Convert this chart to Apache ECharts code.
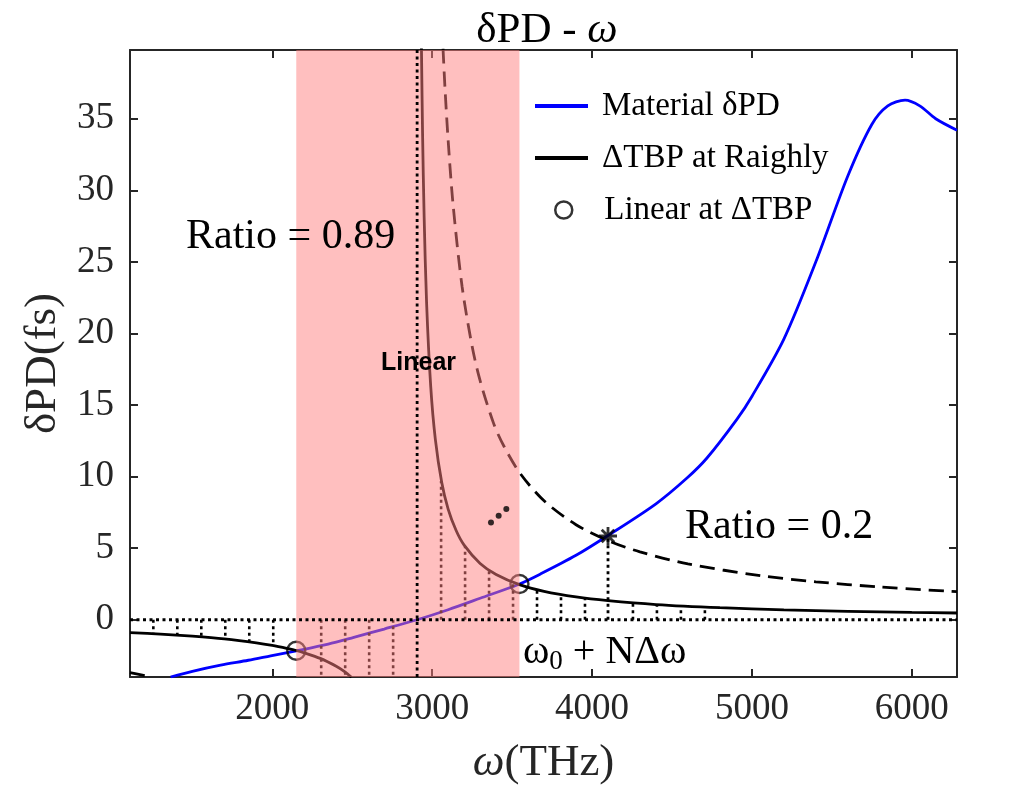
<!DOCTYPE html>
<html>
<head>
<meta charset="utf-8">
<script src="https://cdn.jsdelivr.net/npm/echarts@6/dist/echarts.min.js"></script>
<style>
html,body{margin:0;padding:0;background:#fff;}
#chart{width:1019px;height:797px;}
</style>
</head>
<body>
<div id="chart"></div>
<script>
// ---- data ----
const xTicks = [2000, 3000, 4000, 5000, 6000];
const yTicks = [0, 5, 10, 15, 20, 25, 30, 35];

// Material δPD (blue)
const omegaBlue = [1364, 1500, 1677, 1850, 1990, 2150, 2350, 2510, 2700, 2906, 3100, 3300, 3546, 3678, 3900, 4095, 4400, 4594, 4719, 4906, 5000, 5200, 5400, 5600, 5750, 5850, 5958, 6050, 6150, 6283];
const deltaPD   = [-4.0, -3.6, -3.17, -2.83, -2.52, -2.17, -1.7, -1.23, -0.65, 0, 0.7, 1.5, 2.5, 3.2, 4.5, 5.85, 8.1, 9.9, 11.3, 14.0, 15.6, 19.6, 25.0, 31.0, 34.6, 35.9, 36.3, 35.9, 35.0, 34.2];

// ΔTBP at Raighly (solid), left branch and right branch
const omegaTbpL = [1110, 1300, 1500, 1700, 1900, 2000, 2100, 2150, 2200, 2300, 2400, 2450, 2495];
const tbpL      = [-0.90, -1.00, -1.15, -1.34, -1.61, -1.79, -2.02, -2.15, -2.31, -2.70, -3.25, -3.61, -4.02];
const omegaTbpR = [2933, 2940, 2950, 2965, 2991, 3020, 3060, 3100, 3150, 3200, 3300, 3400, 3546, 3700, 3900, 4100, 4400, 4800, 5200, 5600, 6000, 6283];
const tbpR      = [40.0, 34.0, 28.1, 22.2, 16.3, 12.6, 9.58, 7.73, 6.23, 5.21, 3.93, 3.16, 2.45, 1.98, 1.59, 1.33, 1.06, 0.84, 0.69, 0.59, 0.51, 0.47];

// dashed curve (Ratio = 0.2)
const omegaDashL = [1110, 1180, 1250];
const dashL      = [-3.70, -3.85, -4.01];
const omegaDashR = [3068, 3080, 3100, 3130, 3187, 3250, 3300, 3385, 3450, 3552, 3700, 3900, 4100, 4300, 4600, 5052, 5400, 5800, 6283];
const dashR      = [39.9, 37.2, 33.5, 29.1, 23.3, 19.1, 16.7, 13.7, 12.1, 10.2, 8.31, 6.64, 5.53, 4.74, 3.90, 3.08, 2.65, 2.29, 1.96];

// Linear at ΔTBP circles
const circOmega = [2150, 3546];
const circVal   = [-2.17, 2.5];
// star
const starOmega = [4100];
const starVal   = [5.85];

// dotted stems (ω0 + NΔω)
const stemOmega = [1256, 1406, 1556, 1706, 1856, 2006, 2306, 2456, 2606, 2756, 3056, 3206, 3356, 3506, 3656, 3806, 3956, 4256, 4406, 4556, 4706];
const stemEnd   = [-0.98, -1.08, -1.21, -1.37, -1.57, -1.80, -4, -4, -4, -4, 9.7, 5.1, 3.49, 2.6, 2.09, 1.75, 1.51, 1.18, 1.06, 0.96, 0.88];

// ellipsis dots
const dotOmega = [3368, 3416, 3464];
const dotVal   = [6.8, 7.27, 7.74];

// linear point ω0 and band limits
const omega0 = [2906];
const bandOmega = [2150, 3546];

const xMin = 1110, xMax = 6283, yMin = -4, yMax = 39.8;

// ---- build ----
const zip = (a, b) => a.map((v, i) => [v, b[i]]);
const tbpData = zip(omegaTbpL, tbpL).concat([[2700, '-']]).concat(zip(omegaTbpR, tbpR));
const dashData = zip(omegaDashL, dashL).concat([[2700, '-']]).concat(zip(omegaDashR, dashR));
const stemData = [];
stemOmega.forEach((w, i) => { stemData.push([w, 0], [w, stemEnd[i]], [w, '-']); });

const serif = 'Liberation Serif';
const axisCol = '#262626';

const chart = echarts.init(document.getElementById('chart'), null, {renderer: 'canvas'});
const baseX = {
  type: 'value', min: xMin, max: xMax, splitNumber: 5,
  axisLine: {show: true, onZero: false, lineStyle: {color: axisCol, width: 2}},
  axisTick: {show: true, inside: true, length: 8, lineStyle: {color: axisCol, width: 2}},
  splitLine: {show: false}
};
const baseY = {
  type: 'value', min: yMin, max: yMax, splitNumber: 9,
  axisLine: {show: true, onZero: false, lineStyle: {color: axisCol, width: 2}},
  axisTick: {show: true, inside: true, length: 8, lineStyle: {color: axisCol, width: 2}},
  splitLine: {show: false}
};
const tickFmt = (list) => (v) => (list.indexOf(Math.round(v)) >= 0 ? String(Math.round(v)) : '');

const option = {
  animation: false,
  backgroundColor: '#ffffff',
  title: {
    text: '{a|δPD - }{b|ω}',
    left: 542, top: 4, textAlign: 'center',
    textStyle: {
      fontWeight: 'normal',
      rich: {
        a: {fontFamily: serif, fontSize: 43, fontWeight: 'normal', color: '#000'},
        b: {fontFamily: serif, fontSize: 43, fontWeight: 'normal', fontStyle: 'italic', color: '#000'}
      }
    }
  },
  grid: {left: 130, right: 62, top: 50, bottom: 120, containLabel: false},
  xAxis: [
    Object.assign({}, baseX, {
      position: 'bottom',
      axisLabel: {show: true, showMinLabel: false, showMaxLabel: false, margin: 14, fontFamily: serif, fontSize: 37, color: axisCol, formatter: tickFmt(xTicks)},
      name: '{b|ω}{a|(THz)}', nameLocation: 'middle', nameGap: 64,
      nameTextStyle: {rich: {
        a: {fontFamily: serif, fontSize: 45, color: axisCol},
        b: {fontFamily: serif, fontSize: 45, fontStyle: 'italic', color: axisCol}
      }}
    }),
    Object.assign({}, baseX, {position: 'top', axisLabel: {show: false}})
  ],
  yAxis: [
    Object.assign({}, baseY, {
      position: 'left',
      axisLabel: {show: true, showMinLabel: false, showMaxLabel: false, margin: 16, fontFamily: serif, fontSize: 37, color: axisCol, formatter: tickFmt(yTicks)},
      name: 'δPD(fs)', nameLocation: 'middle', nameGap: 62, nameRotate: 90,
      nameTextStyle: {fontFamily: serif, fontSize: 45, color: axisCol}
    }),
    Object.assign({}, baseY, {position: 'right', axisLabel: {show: false}})
  ],
  legend: [
    {
      orient: 'vertical', left: 530, top: 82, itemWidth: 53, itemHeight: 4, itemGap: 14,
      data: [{name: 'Material δPD', icon: 'rect'}, {name: 'ΔTBP at Raighly', icon: 'rect'}],
      textStyle: {fontFamily: serif, fontSize: 33, color: '#000', lineHeight: 38, padding: [0, 0, 0, 9]},
      selectedMode: false
    },
    {
      orient: 'vertical', left: 549, top: 186, itemWidth: 17, itemHeight: 17,
      data: [{name: 'Linear at ΔTBP', icon: 'circle', itemStyle: {color: 'rgba(0,0,0,0)', borderColor: '#000', borderWidth: 2.5}}],
      textStyle: {fontFamily: serif, fontSize: 33, color: '#000', lineHeight: 38, padding: [0, 0, 0, 27]},
      selectedMode: false
    }
  ],
  series: [
    {
      name: 'Material δPD', type: 'line', data: zip(omegaBlue, deltaPD), showSymbol: false, smooth: 0.3,
      lineStyle: {color: '#0000ff', width: 2.8}, itemStyle: {color: '#0000ff'}, z: 2, silent: true
    },
    {
      name: 'ΔTBP at Raighly', type: 'line', data: tbpData, showSymbol: false, smooth: 0.3, connectNulls: false,
      lineStyle: {color: '#000', width: 2.8}, itemStyle: {color: '#000'}, z: 2, silent: true
    },
    {
      name: 'dashed', type: 'line', data: dashData, showSymbol: false, smooth: 0.3, connectNulls: false,
      lineStyle: {color: '#000', width: 2.8, type: [15, 8]}, z: 2, silent: true
    },
    {
      name: 'stems', type: 'line', data: stemData, showSymbol: false, connectNulls: false,
      lineStyle: {color: '#000', width: 2.6, type: [3, 3.5]}, z: 2, silent: true
    },
    {
      name: 'starStem', type: 'line', data: [[starOmega[0], 0], [starOmega[0], starVal[0]]], showSymbol: false,
      lineStyle: {color: '#000', width: 2.8, type: [3, 3.5]}, z: 2, silent: true
    },
    {
      name: 'Linear at ΔTBP', type: 'scatter', data: zip(circOmega, circVal), symbol: 'circle', symbolSize: 18,
      itemStyle: {color: 'rgba(0,0,0,0)', borderColor: '#000', borderWidth: 2.4}, z: 3, silent: true
    },
    {
      name: 'star', type: 'scatter', data: zip(starOmega, starVal),
      symbol: 'path://M0,-10L0,10M-10,0L10,0M-7,-7L7,7M-7,7L7,-7', symbolSize: 18,
      itemStyle: {color: 'rgba(0,0,0,0)', borderColor: '#000', borderWidth: 2.8}, z: 3, silent: true
    },
    {
      name: 'dots', type: 'scatter', data: zip(dotOmega, dotVal), symbol: 'circle', symbolSize: 6,
      itemStyle: {color: '#000'}, z: 7, silent: true
    },
    {
      name: 'band', type: 'line', data: [], silent: true, z: 5,
      markArea: {
        silent: true, z: 5,
        itemStyle: {color: 'rgba(255,128,128,0.5)', borderWidth: 0},
        data: [[{xAxis: bandOmega[0]}, {xAxis: bandOmega[1]}]]
      }
    },
    {
      name: 'zeroLine', type: 'line', data: [[xMin, 0], [xMax, 0]], showSymbol: false,
      lineStyle: {color: '#000', width: 2.8, type: [3, 3.5]}, z: 6, silent: true
    },
    {
      name: 'omega0Line', type: 'line', data: [[omega0[0], yMin], [omega0[0], yMax]], showSymbol: false,
      lineStyle: {color: '#000', width: 2.8, type: [3, 3.5]}, z: 6, silent: true
    }
  ],
  graphic: [
    {type: 'text', left: 186, top: 216, z: 100, style: {text: 'Ratio = 0.89', font: '42px "Liberation Serif"', fill: '#000'}},
    {type: 'text', left: 685, top: 506, z: 100, style: {text: 'Ratio = 0.2', font: '42px "Liberation Serif"', fill: '#000'}},
    {type: 'text', left: 381, top: 351, z: 100, style: {text: 'Linear', font: 'bold 25px "Liberation Sans"', fill: '#000'}},
    {type: 'text', left: 523, top: 632, z: 100, style: {
      text: '{a|ω}{s|0}{a| + NΔω}',
      rich: {
        a: {font: '40px "Liberation Serif"', fill: '#000', lineHeight: 46, verticalAlign: 'middle'},
        s: {font: '27px "Liberation Serif"', fill: '#000', lineHeight: 46, verticalAlign: 'bottom', padding: [14, 0, 0, 0]}
      }
    }}
  ]
};
chart.setOption(option);
</script>
</body>
</html>
